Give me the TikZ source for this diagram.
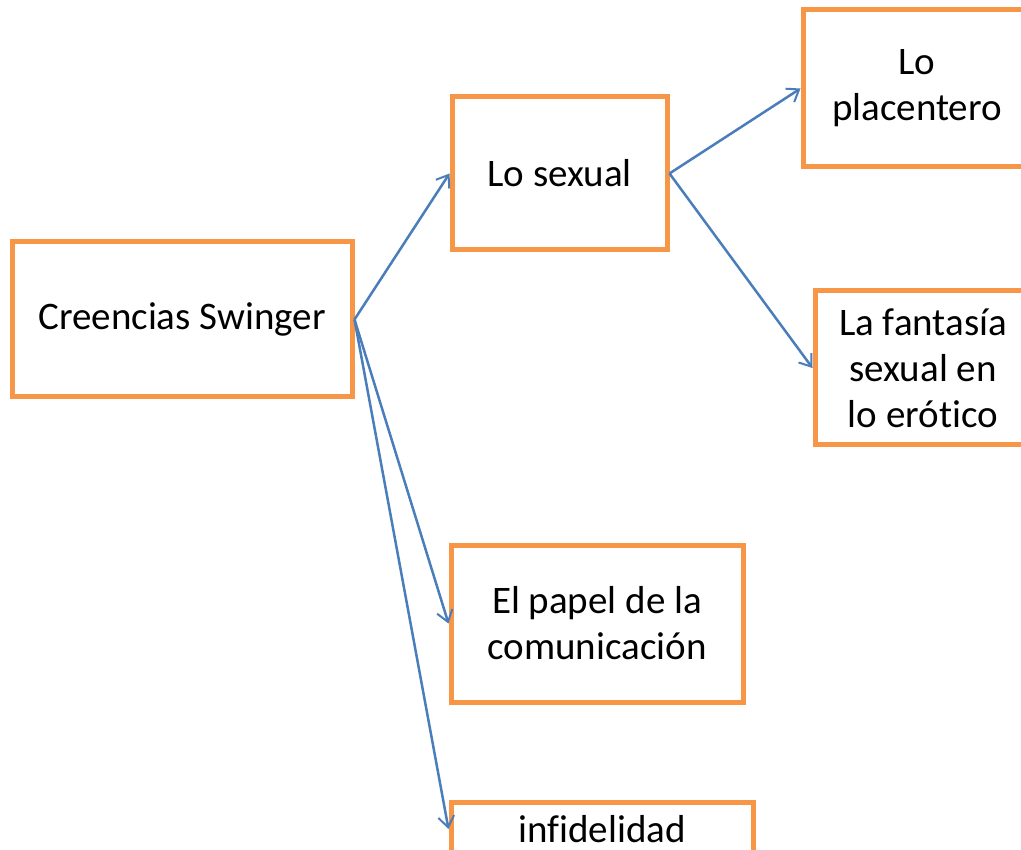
\documentclass[tikz,border=0pt]{standalone}
\usepackage{fontspec}
\setmainfont[Ligatures=NoCommon]{Carlito}
\usepackage{tikz}
\usetikzlibrary{arrows.meta, positioning}
\definecolor{boxorange}{RGB}{247,150,70}
\definecolor{linkblue}{RGB}{74,126,187}
\tikzset{
  block/.style={rectangle, draw=boxorange, fill=white, line width=5pt,
    align=center, inner sep=0pt, font=\fontsize{39}{46}\selectfont},
  arrow/.style={-{Straight Barb[length=11pt, width=16pt, line width=2pt]},
    line width=2.5pt, color=linkblue}
}
\begin{document}
\begin{tikzpicture}[x=1pt, y=-1pt]
  \clip (0,0) rectangle (1021,850);
  \fill[white] (0,0) rectangle (1021,850);

  \node[block, minimum width=340pt, minimum height=155pt] (creencias) at (182, 319.5) {Creencias Swinger};
  \node[block, minimum width=215pt, minimum height=153pt] (sexual) at (559.5, 173.5) {Lo sexual};
  \node[block, minimum width=228pt, minimum height=157pt] (placentero) at (917, 88.5) {Lo\\placentero};
  \node[block, minimum width=216pt, minimum height=154pt] (fantasia) at (923, 368) {La fantasía\\sexual en\\lo erótico};
  \node[block, minimum width=292pt, minimum height=157pt] (papel) at (597, 623.5) {El papel de la\\comunicación};
  \node[block, minimum width=302pt, minimum height=54pt] (infidelidad) at (602, 829) {infidelidad};

  % Paths
  \draw[arrow] (creencias.east) -- (sexual.west);
  \draw[arrow] (creencias.east) -- (papel.west);
  \draw[arrow] (creencias.east) -- (infidelidad.west);
  \draw[arrow] (sexual.east) -- (placentero.west);
  \draw[arrow] (sexual.east) -- (fantasia.west);
\end{tikzpicture}
\end{document}
